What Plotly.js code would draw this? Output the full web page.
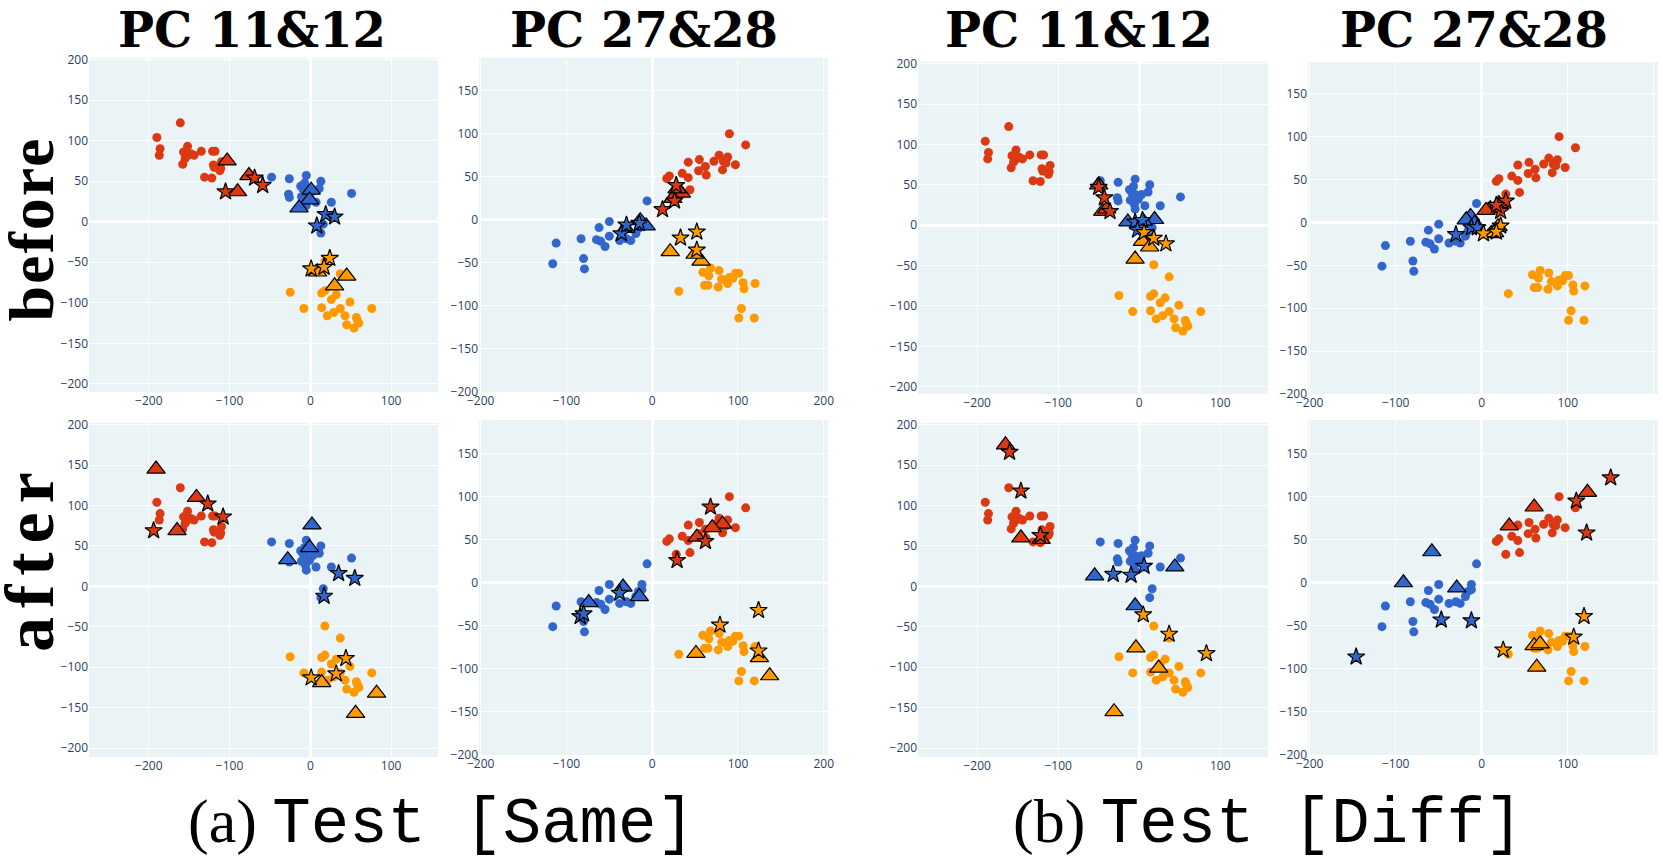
<!DOCTYPE html>
<html><head><meta charset="utf-8">
<script src="https://cdn.plot.ly/plotly-3.0.1.min.js"></script>
<style>html,body{margin:0;padding:0;background:#fff}#chart{width:1663px;height:864px}</style>
</head><body><div id="chart"></div>
<script>
// ---------- base points (circles), PC 11&12 ----------
const pc1112_red_x    = [-161, -190, -186, -187, -152, -157, -153, -144, -135, -158, -155, -121, -118, -120, -119, -111, -110, -112, -131, -122, -148];
const pc1112_red_y    = [122, 104, 90, 82, 93, 86, 81, 82, 87, 71, 78, 87, 87, 70, 67, 66, 74, 63, 55, 54, 84];
const pc1112_blue_x   = [-48, -26, -27, -26, -5, -7, -12, -11, -5, -6, -5, -1, 3, 11, 13, 7, 26, 51, 16, 13, -9];
const pc1112_blue_y   = [55, 53, 34, 30, 57, 48, 44, 31, 38, 26, 20, 32, 38, 41, 50, 24, 24, 35, -3, -14, 40];
const pc1112_orange_x = [18, 37, -25, 14, 18, 32, 26, 49, 14, -8, 37, 76, 29, 21, 43, 57, 58, 60, 45, 54];
const pc1112_orange_y = [-49, -64, -87, -88, -85, -90, -96, -99, -106, -107, -107, -107, -112, -116, -116, -118, -121, -125, -127, -131];

// ---------- base points (circles), PC 27&28 ----------
const pc2728_red_x    = [90, 109, 78, 88, 83, 72, 86, 82, 97, 55, 42, 62, 54, 63, 35, 42, 20, 17, 44, 28];
const pc2728_red_y    = [100, 87, 75, 73, 68, 68, 66, 58, 64, 70, 67, 62, 57, 52, 54, 49, 51, 48, 35, 33];
const pc2728_blue_x   = [-6, -116, -112, -83, -80, -79, -62, -50, -65, -60, -55, -50, -38, -30, -25, -19, -16, -12, -12];
const pc2728_blue_y   = [22, -51, -27, -22, -45, -57, -9, -2, -23, -25, -31, -19, -24, -22, -24, -16, -10, -8, -2];
const pc2728_orange_x = [68, 59, 66, 61, 65, 77, 78, 81, 88, 90, 94, 97, 101, 106, 107, 120, 31, 104, 101, 119];
const pc2728_orange_y = [-56, -61, -65, -76, -76, -78, -59, -69, -74, -67, -68, -62, -62, -73, -80, -74, -83, -103, -114, -114];

// ---------- test points: order = red x3, blue x3, orange x3 ----------
const groupColors = ['red','red','red','blue','blue','blue','orange','orange','orange'];

// before / Same / PC 11&12
const p1_triX  = [-103, -90, -76, 1, -1, -14, 9, 45, 30];
const p1_triY  = [75, 37, 57, 39, 27, 17, -62, -67, -79];
const p1_starX = [-105, -69, -59, 19, 30, 8, 24, 1, 17];
const p1_starY = [37, 54, 45, 9, 6, -5, -45, -58, -56];
// before / Same / PC 27&28
const p2_triX  = [34, 24, 29, -14, -7, -31, 21, 57, 50];
const p2_triY  = [31, 25, 36, -1, -7, -10, -37, -48, -40];
const p2_starX = [28, 12, 26, -36, -15, -30, 52, 33, 52];
const p2_starY = [40, 12, 22, -16, -4, -6, -14, -21, -35];
// before / Diff / PC 11&12
const p3_triX  = [-50, -45, -40, -14, 19, 5, 4, 13, -5];
const p3_triY  = [50, 17, 20, 4, 7, 5, -20, -27, -42];
const p3_starX = [-50, -43, -36, -5, 4, -2, 6, 18, 33];
const p3_starY = [47, 34, 17, 4, 6, -6, -9, -16, -23];
// before / Diff / PC 27&28
const p4_triX  = [10, 5, 20, -13, -18, -8, 11, 19, 15];
const p4_triY  = [16, 14, 22, 7, 3, -1, -13, -5, -12];
const p4_starX = [28, 22, 17, -30, -12, -5, 2, 22, 17];
const p4_starY = [25, 13, 20, -14, -6, -6, -13, -4, -11];
// after / Same / PC 11&12
const p5_triX  = [-191, -141, -165, 2, -1, -28, 14, 82, 56];
const p5_triY  = [145, 110, 69, 76, 48, 33, -119, -132, -157];
const p5_starX = [-127, -108, -194, 35, 55, 17, 44, 32, 1];
const p5_starY = [102, 86, 69, 16, 10, -12, -89, -108, -113];
// after / Same / PC 27&28
const p6_triX  = [82, 70, 52, -34, -15, -74, 51, 125, 137];
const p6_triY  = [68, 64, 53, -5, -16, -23, -82, -87, -108];
const p6_starX = [68, 62, 29, -38, -84, -80, 124, 79, 124];
const p6_starY = [88, 48, 26, -12, -39, -36, -32, -49, -79];
// after / Diff / PC 11&12
const p7_triX  = [-165, -146, -121, -55, 44, -5, -4, 24, -31];
const p7_triY  = [175, 60, 58, 13, 24, -24, -76, -101, -155];
const p7_starX = [-160, -146, -122, -32, -10, 6, 5, 37, 83];
const p7_starY = [166, 118, 63, 15, 14, 25, -35, -59, -83];
// after / Diff / PC 27&28
const p8_triX  = [123, 61, 32, -58, -91, -29, 61, 68, 64];
const p8_triY  = [105, 88, 66, 36, 0, -6, -73, -71, -98];
const p8_starX = [150, 110, 122, -146, -47, -12, 119, 107, 25];
const p8_starY = [122, 95, 58, -86, -43, -44, -39, -63, -78];

// ---------- text ----------
const colTitles = ['PC 11&amp;12', 'PC 27&amp;28', 'PC 11&amp;12', 'PC 27&amp;28'];
const rowTitles = ['before', 'after'];
const captions = [['(a)', 'Test [Same]'], ['(b)', 'Test [Diff]']];

// ---------- build ----------
const W = 1663, H = 864;
const COLORS = {red: '#DC3912', blue: '#3366CC', orange: '#FF9900'};
const base = {
  '1112': [[pc1112_red_x, pc1112_red_y, 'red'], [pc1112_blue_x, pc1112_blue_y, 'blue'], [pc1112_orange_x, pc1112_orange_y, 'orange']],
  '2728': [[pc2728_red_x, pc2728_red_y, 'red'], [pc2728_blue_x, pc2728_blue_y, 'blue'], [pc2728_orange_x, pc2728_orange_y, 'orange']]
};
const panels = [
  {pc:'1112', tx:p1_triX, ty:p1_triY, sx:p1_starX, sy:p1_starY, px:[89,438],   py:[58,392],  xr:[-274,158], yr:[-210,202]},
  {pc:'2728', tx:p2_triX, ty:p2_triY, sx:p2_starX, sy:p2_starY, px:[479,828],  py:[58,392],  xr:[-202,205], yr:[-200,188]},
  {pc:'1112', tx:p3_triX, ty:p3_triY, sx:p3_starX, sy:p3_starY, px:[918,1268], py:[62,394],  xr:[-273,159], yr:[-209,202]},
  {pc:'2728', tx:p4_triX, ty:p4_triY, sx:p4_starX, sy:p4_starY, px:[1308,1658],py:[62,394],  xr:[-202,205], yr:[-200,187]},
  {pc:'1112', tx:p5_triX, ty:p5_triY, sx:p5_starX, sy:p5_starY, px:[89,438],   py:[423,757], xr:[-274,158], yr:[-211,202]},
  {pc:'2728', tx:p6_triX, ty:p6_triY, sx:p6_starX, sy:p6_starY, px:[479,828],  py:[420,755], xr:[-202,205], yr:[-200,189]},
  {pc:'1112', tx:p7_triX, ty:p7_triY, sx:p7_starX, sy:p7_starY, px:[918,1268], py:[423,757], xr:[-273,159], yr:[-211,202]},
  {pc:'2728', tx:p8_triX, ty:p8_triY, sx:p8_starX, sy:p8_starY, px:[1308,1658],py:[420,755], xr:[-202,205], yr:[-200,189]}
];

const traces = [];
const layout = {
  width: W, height: H, margin: {l:0, r:0, t:0, b:0},
  paper_bgcolor: '#ffffff', plot_bgcolor: '#EAF4F7',
  showlegend: false, font: {family: 'Open Sans, sans-serif', color: '#2a3f5f', size: 12},
  annotations: []
};
const mc = groupColors.map(g => COLORS[g]);

panels.forEach((p, i) => {
  const n = i === 0 ? '' : String(i + 1);
  const xa = 'x' + n, ya = 'y' + n;
  base[p.pc].forEach(([bx, by, c]) => {
    traces.push({type:'scatter', mode:'markers', x:bx, y:by, xaxis:xa, yaxis:ya,
      marker:{color:COLORS[c], size:9}, hoverinfo:'skip'});
  });
  traces.push({type:'scatter', mode:'markers', x:p.tx, y:p.ty, xaxis:xa, yaxis:ya,
    marker:{symbol:'triangle-up', color:mc, size:16, line:{color:'#000', width:1.2}}, hoverinfo:'skip'});
  traces.push({type:'scatter', mode:'markers', x:p.sx, y:p.sy, xaxis:xa, yaxis:ya,
    marker:{symbol:'star', color:mc, size:13, line:{color:'#000', width:1.2}}, hoverinfo:'skip'});
  const axCommon = {showgrid:true, gridcolor:'#ffffff', gridwidth:1, zeroline:true, zerolinecolor:'#ffffff',
    zerolinewidth:3, showline:false, ticks:'', tick0:0,
    tickfont:{family:'Open Sans, sans-serif', size:12, color:'#2a3f5f'}};
  layout['xaxis' + n] = Object.assign({}, axCommon, {domain:[p.px[0]/W, p.px[1]/W], range:p.xr, dtick:100, anchor:ya});
  layout['yaxis' + n] = Object.assign({}, axCommon, {domain:[1 - p.py[1]/H, 1 - p.py[0]/H], range:p.yr, dtick:50, anchor:xa});
});

// column titles
const titleX = [252, 644, 1079, 1474];
colTitles.forEach((t, i) => {
  layout.annotations.push({text:'<b>' + t + '</b>', x:titleX[i]/W, y:1, xref:'paper', yref:'paper',
    xanchor:'center', yanchor:'top', showarrow:false,
    font:{family:'DejaVu Serif, serif', size:48, color:'#000'}});
});
// row titles
const rowY = [229, 558];
const rowSize = [64, 70];
const rowShift = [-7, -12];
rowTitles.forEach((t, i) => {
  layout.annotations.push({text:'<b>' + t + '</b>', textangle:-90, x:0, y:1 - rowY[i]/H, xref:'paper', yref:'paper',
    xanchor:'left', yanchor:'middle', showarrow:false, xshift:rowShift[i],
    font:{family:'Liberation Serif, serif', size:rowSize[i], color:'#000'}});
});
// captions
const capX = [441, 1268];
captions.forEach((c, i) => {
  layout.annotations.push({text: c[0] + ' <span style="font-family:Liberation Mono,monospace;font-size:64px">' + c[1] + '</span>',
    x:capX[i]/W, y:1 - 824/H, xref:'paper', yref:'paper', xanchor:'center', yanchor:'middle', showarrow:false,
    font:{family:'Liberation Serif, serif', size:62, color:'#000'}});
});

Plotly.newPlot('chart', traces, layout, {displayModeBar:false, staticPlot:true}).then(() => {
  // the reference face is a little wider than Liberation Serif: add slight tracking
  const spacing = {before: '2px', after: '9px'};
  document.querySelectorAll('.annotation-text').forEach(el => {
    const t = el.textContent.trim();
    if (spacing[t]) el.style.letterSpacing = spacing[t];
  });
});
</script>
</body></html>
